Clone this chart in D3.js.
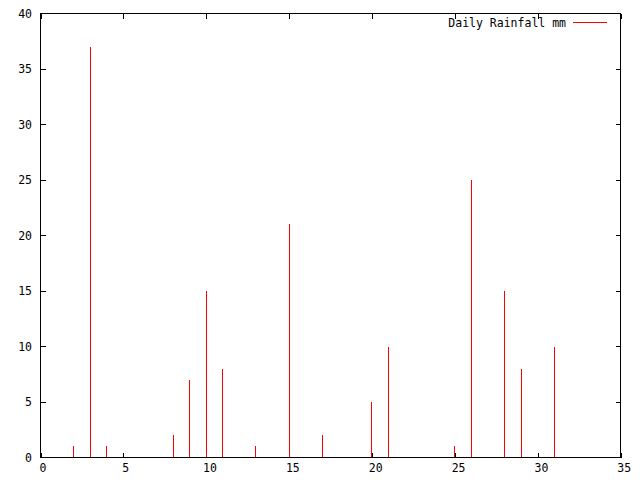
<!DOCTYPE html>
<html><head><meta charset="utf-8">
<script src="https://cdn.jsdelivr.net/npm/d3@7"></script>
<style>body{margin:0;background:#fff}svg{display:block}text{font-family:"DejaVu Sans Mono",monospace;font-size:11.5px}</style>
</head><body><svg id="c" width="640" height="480"></svg>
<script>
const days = [2,3,4,8,9,10,11,13,15,17,20,21,25,26,28,29,31];
const rainfall = [1,37,1,2,7,15,8,1,21,2,5,10,1,25,15,8,10];
const xTicks = [0,5,10,15,20,25,30,35];
const yTicks = [0,5,10,15,20,25,30,35,40];
const seriesName = "Daily Rainfall mm";

const svg = d3.select("#c");
const L = 40.5, R = 620.5, T = 13.5, B = 457.5;
const x = d3.scaleLinear().domain([0,35]).range([L,R]);
const y = d3.scaleLinear().domain([0,40]).range([B,T]);
const tl = 5;

const g = svg.append("g").attr("stroke","#000").attr("stroke-width",1).attr("shape-rendering","crispEdges");
xTicks.forEach(v=>{
  const px = Math.round(x(v))+0.5;
  g.append("line").attr("x1",px).attr("x2",px).attr("y1",B).attr("y2",B-tl);
  g.append("line").attr("x1",px).attr("x2",px).attr("y1",T).attr("y2",T+tl);
});
yTicks.forEach(v=>{
  const py = Math.round(y(v)-0.5)+0.5;
  g.append("line").attr("x1",L).attr("x2",L+tl).attr("y1",py).attr("y2",py);
  g.append("line").attr("x1",R).attr("x2",R-tl).attr("y1",py).attr("y2",py);
});
svg.append("g").attr("shape-rendering","crispEdges").selectAll("line").data(days).join("line")
  .attr("x1",(d)=>Math.round(x(d)-0.5)+0.5).attr("x2",(d)=>Math.round(x(d)-0.5)+0.5)
  .attr("y1",B).attr("y2",(d,i)=>y(rainfall[i]))
  .attr("stroke","#ff0000").attr("stroke-width",1);
svg.append("rect").attr("x",L).attr("y",T).attr("width",R-L).attr("height",B-T)
  .attr("fill","none").attr("stroke","#000").attr("shape-rendering","crispEdges");
svg.append("g").selectAll("text").data(xTicks).join("text")
  .attr("x",d=>x(d)+1+1.4*String(d).length).attr("y",472).attr("text-anchor","middle").text(d=>d);
svg.append("g").selectAll("text").data(yTicks).join("text")
  .attr("x",L-8.5).attr("y",d=>y(d)+4).attr("text-anchor","end").text(d=>d);
svg.append("text").attr("x",566).attr("y",27).attr("text-anchor","end").text(seriesName);
svg.append("line").attr("x1",573).attr("x2",607).attr("y1",22.5).attr("y2",22.5)
  .attr("stroke","#ff0000").attr("shape-rendering","crispEdges");
</script></body></html>
